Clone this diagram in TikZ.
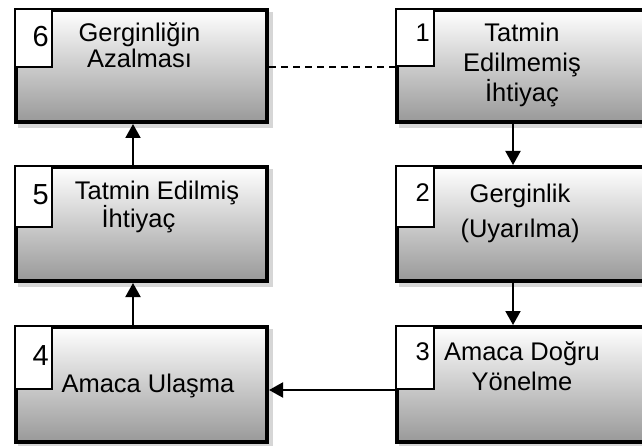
\documentclass[tikz,border=0pt]{standalone}
\usepackage{fontspec}
\setmainfont{Liberation Sans}
\usetikzlibrary{arrows.meta,backgrounds}
\definecolor{shadowc}{gray}{0.84}
\definecolor{botgray}{gray}{0.60}
\tikzset{
  box/.style={rectangle, inner sep=0pt, anchor=north west, top color=white, bottom color=botgray, draw=black, line width=4pt},
  numbox/.style={rectangle, inner sep=0pt, anchor=north west, fill=white, draw=black, line width=2pt},
  lbl/.style={inner sep=0pt, anchor=base, font=\fontsize{25.5}{30}\selectfont},
  bignum/.style={inner sep=0pt, anchor=base east, font=\fontsize{29}{34}\selectfont},
  smallnum/.style={inner sep=0pt, anchor=base east, font=\fontsize{25.5}{30}\selectfont},
  arr/.style={line width=2pt, -{Triangle[width=15pt,length=14pt]}},
  dashline/.style={line width=2pt, dash pattern=on 7pt off 5pt}
}
\begin{document}
\begin{tikzpicture}[x=1pt,y=-1pt]
\useasboundingbox (0,0) rectangle (642,446);
% boxes
\node[box, minimum width=251pt, minimum height=112pt] (b6) at (14,8) {};
\node[box, minimum width=251pt, minimum height=114pt] (b5) at (14,165) {};
\node[box, minimum width=251pt, minimum height=115pt] (b4) at (14,325) {};
\node[box, minimum width=254pt, minimum height=112pt] (b1) at (395,8) {};
\node[box, minimum width=254pt, minimum height=114pt] (b2) at (395,165) {};
\node[box, minimum width=254pt, minimum height=115pt] (b3) at (395,325) {};
% shadows
\begin{scope}[on background layer]
\foreach \b in {b1,b2,b3,b4,b5,b6}
  \fill[shadowc] ([shift={(4,4)}]\b.north west) rectangle ([shift={(4,4)}]\b.south east);
\end{scope}
% number boxes
\node[numbox, minimum width=37pt, minimum height=58pt] (n6) at (b6.north west) {};
\node[numbox, minimum width=37pt, minimum height=61pt] (n5) at (b5.north west) {};
\node[numbox, minimum width=37pt, minimum height=63pt] (n4) at (b4.north west) {};
\node[numbox, minimum width=38pt, minimum height=57pt] (n1) at (b1.north west) {};
\node[numbox, minimum width=38pt, minimum height=61pt] (n2) at (b2.north west) {};
\node[numbox, minimum width=38pt, minimum height=63pt] (n3) at (b3.north west) {};
% numbers
\node[bignum] (t6) at (49,47) {6};
\node[bignum] (t5) at (49,205) {5};
\node[bignum] (t4) at (49,365) {4};
\node[smallnum] (t1) at (430,42) {1};
\node[smallnum] (t2) at (430,202) {2};
\node[smallnum] (t3) at (430,360) {3};
% labels
\node[lbl] (l6a) at (139.5,42) {Gerginliğin};
\node[lbl] (l6b) at (139.5,68) {Azalması};
\node[lbl] (l5a) at (157,200) {Tatmin Edilmiş};
\node[lbl] (l5b) at (138.5,228) {İhtiyaç};
\node[lbl] (l4a) at (148,392) {Amaca Ulaşma};
\node[lbl] (l1a) at (522,42) {Tatmin};
\node[lbl] (l1b) at (522,72) {Edilmemiş};
\node[lbl] (l1c) at (522,102) {İhtiyaç};
\node[lbl] (l2a) at (520,203) {Gerginlik};
\node[lbl] (l2b) at (520,238) {(Uyarılma)};
\node[lbl] (l3a) at (522,360) {Amaca Doğru};
\node[lbl] (l3b) at (522,390) {Yönelme};
% connectors
\coordinate (cl) at (133,0);
\coordinate (cr) at (513,0);
\draw[arr] (b5.north -| cl) -- (b6.south -| cl);
\draw[arr] (b4.north -| cl) -- (b5.south -| cl);
\draw[arr] (b1.south -| cr) -- (b2.north -| cr);
\draw[arr] (b2.south -| cr) -- (b3.north -| cr);
\draw[arr] (n3.south west) -- (n3.south west -| b4.east);
\draw[dashline] (b6.east |- n1.south west) -- (n1.south west);
\end{tikzpicture}
\end{document}
